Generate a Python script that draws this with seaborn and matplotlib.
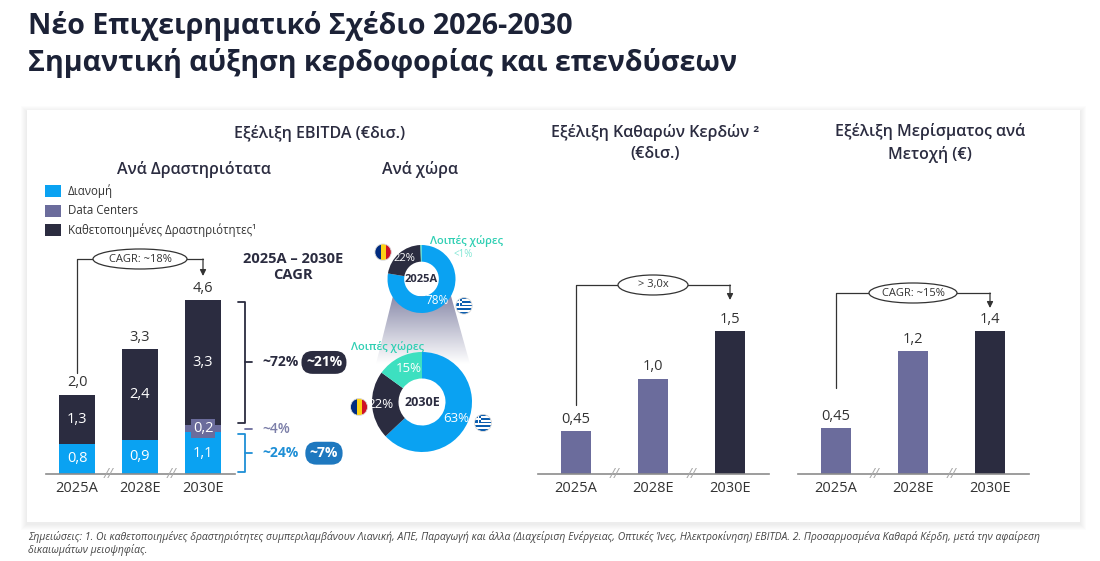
import numpy as np
import pandas as pd
import matplotlib
matplotlib.use("Agg")
import matplotlib.pyplot as plt
from matplotlib.patches import Ellipse, Rectangle, Circle, Polygon
from matplotlib.colors import LinearSegmentedColormap
import seaborn as sns

sns.set_theme(style="white")
plt.rcParams['font.family'] = ['Open Sans', 'DejaVu Sans']

# ---- data
years = ["2025A", "2028E", "2030E"]
ebitda_distribution = [0.8, 0.9, 1.1]
ebitda_data_centers = [0.0, 0.0, 0.2]
ebitda_integrated = [1.3, 2.4, 3.3]
ebitda_total_labels = ["2,0", "3,3", "4,6"]
ebitda_cagr = "CAGR: ~18%"

segment_names = ["Διανομή", "Data Centers", "Καθετοποιημένες Δραστηριότητες¹"]
segment_share_2030 = ["~24%", "~4%", "~72%"]
segment_cagr = ["~7%", "", "~21%"]

country_names = ["Ελλάδα", "Ρουμανία", "Λοιπές χώρες"]
country_share_2025 = [78, 22, 0.5]
country_share_2030 = [63, 22, 15]
country_labels_2025 = ["78%", "22%", "<1%"]
country_labels_2030 = ["63%", "22%", "15%"]

net_profit = [0.45, 1.0, 1.5]
net_profit_growth = "> 3,0x"
dividend = [0.45, 1.2, 1.4]
dividend_cagr = "CAGR: ~15%"

# colours
NAVY = "#1c2237"
DARK = "#2b2c40"
BLUE = "#0aa2f2"
PURPLE = "#6b6c9c"
TEAL = "#3de0c0"
TEAL_TXT = "#2fcfb3"
BLUE_TXT = "#1f8fd6"
PILL_BLUE = "#1e78bf"
LINE = "#333333"
TXT = "#333333"

W, H = 1100, 561
BASE = 474  # pixel row of the bar baselines

fig = plt.figure(figsize=(W / 100, H / 100), dpi=100)
bg = fig.add_axes([0, 0, 1, 1])
bg.axis('off')

# card with a soft shadow
for s in range(1, 7):
    bg.add_patch(Rectangle((27 - s, 110 - s + 2), 1053 + 2 * s, 412 + 2 * s,
                           fc='black', ec='none', alpha=0.01))
bg.add_patch(Rectangle((27, 110), 1053, 412, fc='white', ec='none'))

# funnel between the two donuts
grad = np.linspace(0, 1, 100)[:, None]
fcmap = LinearSegmentedColormap.from_list('funnel', ['#8b8cab', '#ffffff'])
im = bg.imshow(grad, extent=[376, 470, 364, 296], cmap=fcmap, aspect='auto', zorder=1)
im.set_clip_path(Polygon([(393, 296), (451, 296), (470, 364), (376, 364)], transform=bg.transData))
bg.set_xlim(0, W)
bg.set_ylim(H, 0)

# titles
bg.text(28, 26, "Νέο Επιχειρηματικό Σχέδιο 2026-2030", fontsize=20.6, weight='bold',
        color=NAVY, va='center')
bg.text(28, 63, "Σημαντική αύξηση κερδοφορίας και επενδύσεων", fontsize=20.6, weight='bold',
        color=NAVY, va='center')

head = dict(fontsize=11.5, weight='semibold', color=DARK, ha='center', va='center')
bg.text(320, 133, "Εξέλιξη EBITDA (€δισ.)", **head)
bg.text(194, 169, "Ανά Δραστηριότατα", **head)
bg.text(420, 169, "Ανά χώρα", **head)
bg.text(655, 143, "Εξέλιξη Καθαρών Κερδών ²\n(€δισ.)", linespacing=1.45, **head)
bg.text(930, 143, "Εξέλιξη Μερίσματος ανά\nΜετοχή (€)", linespacing=1.45, **head)

# legend
for i, (name, col) in enumerate(zip(segment_names, [BLUE, PURPLE, DARK])):
    y = 191 + i * 19.5
    bg.add_patch(Rectangle((45, y - 6), 16, 12, fc=col, ec='none'))
    bg.text(68, y, name, fontsize=8.3, color=TXT, va='center')

bg.text(293, 267, "2025A – 2030E\nCAGR", fontsize=10.5, weight='bold', color=DARK,
        ha='center', va='center', linespacing=1.2)

note = dict(fontsize=7.5, style='italic', color='#444444', va='center')
bg.text(28, 537, "Σημειώσεις: 1. Οι καθετοποιημένες δραστηριότητες συμπεριλαμβάνουν Λιανική, ΑΠΕ, "
        "Παραγωγή και άλλα (Διαχείριση Ενέργειας, Οπτικές Ίνες, Ηλεκτροκίνηση) EBITDA. "
        "2. Προσαρμοσμένα Καθαρά Κέρδη, μετά την αφαίρεση", **note)
bg.text(28, 550, "δικαιωμάτων μειοψηφίας.", **note)


def fmt(v):
    s = f"{v:.2f}".rstrip('0')
    if s.endswith('.'):
        s += '0'
    return s.replace('.', ',')


def bar_axes(x0, x1, ytop):
    ax = fig.add_axes([x0 / W, 1 - BASE / H, (x1 - x0) / W, (BASE - ytop) / H])
    ax.patch.set_visible(False)
    return ax


def style(ax, ymax):
    ax.set_xlim(-0.5, 2.5)
    ax.set_ylim(0, ymax)
    sns.despine(ax=ax, left=True)
    ax.spines['bottom'].set_color('#8c8c8c')
    ax.spines['bottom'].set_linewidth(1.2)
    ax.set_yticks([])
    ax.set_xlabel('')
    ax.set_ylabel('')
    ax.tick_params(axis='x', length=0, pad=5, labelsize=10.5, labelcolor=TXT)
    for xb in (0.5, 1.5):
        ax.text(xb, 0, "//", ha='center', va='center', fontsize=10, color='#a8a8a8',
                style='italic', clip_on=False)


def growth_arrow(ax, vals, text, ell_px, xk, k, start_px, top_px, end_px):
    y0 = vals[0] + start_px / k
    yt = max(vals) + top_px / k
    ye = vals[-1] + end_px / k
    ax.plot([0, 0, 2], [y0, yt, yt], color=LINE, lw=0.9, clip_on=False)
    ax.annotate('', xy=(2, ye), xytext=(2, yt), annotation_clip=False,
                arrowprops=dict(arrowstyle='-|>', color=LINE, lw=0.9, mutation_scale=9,
                                shrinkA=0, shrinkB=0))
    ax.add_patch(Ellipse((1, yt), ell_px / xk, 20 / k, fc='white', ec=LINE, lw=0.9,
                         clip_on=False, zorder=3))
    ax.text(1, yt, text, ha='center', va='center', fontsize=8, color=TXT, zorder=4)


# ---- EBITDA stacked bars
k_e = (BASE - 300) / 4.6
ax_e = bar_axes(45.5, 234.5, 300)
df = pd.DataFrame({"year": years, "dist": ebitda_distribution,
                   "dc": ebitda_data_centers, "vert": ebitda_integrated})
df["lvl1"] = df["dist"]
df["lvl2"] = df["lvl1"] + df["dc"]
df["lvl3"] = df["lvl2"] + df["vert"]
for col, color in [("lvl3", DARK), ("lvl2", PURPLE), ("lvl1", BLUE)]:
    sns.barplot(data=df, x="year", y=col, color=color, width=0.556, saturation=1,
                linewidth=0, ax=ax_e)
style(ax_e, 4.6)

for i, row in df.iterrows():
    ax_e.text(i, row["lvl1"] / 2, fmt(row["dist"]), ha='center', va='center',
              fontsize=10.5, color='white')
    ax_e.text(i, (row["lvl2"] + row["lvl3"]) / 2, fmt(row["vert"]), ha='center',
              va='center', fontsize=10.5, color='white')
    if row["dc"] > 0:
        ax_e.text(i, (row["lvl1"] + row["lvl2"]) / 2, fmt(row["dc"]), ha='center',
                  va='center', fontsize=10.5, color='white', zorder=5,
                  bbox=dict(boxstyle='square,pad=0.12', fc=PURPLE, ec='none'))
    ax_e.annotate(ebitda_total_labels[i], (i, row["lvl3"]), xytext=(0, 3),
                  textcoords='offset points', ha='center', va='bottom', fontsize=10.5, color=TXT)

growth_arrow(ax_e, df["lvl3"].tolist(), ebitda_cagr, 94, 63, k_e, 22, 41, 24)

# brackets for 2030E mix
last = df.iloc[-1]
xb0, xb1, xb2 = 2.556, 2.667, 2.778
gap = 2 / k_e
spans = [(0, last["lvl1"], BLUE_TXT), (last["lvl1"], last["lvl2"], PURPLE),
         (last["lvl2"], last["lvl3"], DARK)]
for (y0, y1, col), share, cagr in zip(spans, segment_share_2030, segment_cagr):
    a, b = y0 + gap, y1 - gap
    ym = (y0 + y1) / 2
    if y1 - y0 > 0.5:
        ax_e.plot([xb0, xb1, xb1, xb0], [a, a, b, b], color=col, lw=1.3, clip_on=False)
    ax_e.plot([xb1, xb2], [ym, ym], color=col, lw=1.3, clip_on=False)
    tcol = {BLUE_TXT: BLUE_TXT, PURPLE: "#7b7ea8", DARK: DARK}[col]
    ax_e.text(2.94, ym, share, ha='left', va='center', fontsize=10,
              weight='bold' if cagr else 'semibold', color=tcol, clip_on=False)
    if cagr:
        pfc = DARK if col == DARK else PILL_BLUE
        ax_e.text(3.92, ym, cagr, ha='center', va='center', fontsize=10, weight='bold',
                  color='white', clip_on=False,
                  bbox=dict(boxstyle='round,pad=0.32,rounding_size=0.8', fc=pfc, ec='none'))

# ---- net profit
k_n = (BASE - 331) / 1.5
ax_n = bar_axes(537.5, 768.5, 331)
sns.barplot(x=years, y=net_profit, hue=years, palette=[PURPLE, PURPLE, DARK], legend=False,
            width=0.4, saturation=1, linewidth=0, ax=ax_n)
style(ax_n, 1.5)
for i, v in enumerate(net_profit):
    ax_n.annotate(fmt(v), (i, v), xytext=(0, 3), textcoords='offset points', ha='center',
                  va='bottom', fontsize=10.5, color=TXT)
growth_arrow(ax_n, net_profit, net_profit_growth, 70, 77, k_n, 26, 46, 31)

# ---- dividend per share
k_d = (BASE - 331) / 1.4
ax_d = bar_axes(797.5, 1028.5, 331)
sns.barplot(x=years, y=dividend, hue=years, palette=[PURPLE, PURPLE, DARK], legend=False,
            width=0.4, saturation=1, linewidth=0, ax=ax_d)
style(ax_d, 1.4)
for i, v in enumerate(dividend):
    ax_d.annotate(fmt(v), (i, v), xytext=(0, 3), textcoords='offset points', ha='center',
                  va='bottom', fontsize=10.5, color=TXT)
growth_arrow(ax_d, dividend, dividend_cagr, 88, 77, k_d, 40, 38, 23)


# ---- donuts by country
def flag(ax, x, y, r, kind):
    if kind == 'ro':
        img = np.array([[[0, 43, 127], [252, 209, 22], [206, 17, 38]]]) / 255
    else:
        blue = np.array([13, 94, 175]) / 255
        img = np.ones((18, 27, 3))
        for s in range(0, 18, 4):
            img[s:s + 2] = blue
        img[0:10, 0:10] = blue
        img[4:6, 0:10] = 1
        img[0:10, 4:6] = 1
    im = ax.imshow(img, extent=[x - r, x + r, y - r, y + r], zorder=6,
                   interpolation='nearest', aspect='auto')
    im.set_clip_path(Circle((x, y), r, transform=ax.transData))
    ax.add_patch(Circle((x, y), r, fc='none', ec='#d8d8d8', lw=0.6, zorder=7))


def donut(cx, cy, R, shares, width, span=1.7):
    ax = fig.add_axes([(cx - span * R) / W, 1 - (cy + span * R) / H,
                       2 * span * R / W, 2 * span * R / H])
    ax.patch.set_visible(False)
    ax.pie(shares, colors=[BLUE, DARK, TEAL], startangle=90, counterclock=False,
           wedgeprops=dict(width=width, edgecolor='none', linewidth=0))
    return ax, span


def finish(ax, span):
    ax.set_xlim(-span, span)
    ax.set_ylim(-span, span)
    ax.set_aspect('equal')
    ax.axis('off')


d1, sp1 = donut(421.5, 279, 34, country_share_2025, 0.49)
d1.text(0, 0, "2025A", ha='center', va='center', fontsize=8, weight='bold', color=DARK)
d1.text(0.46, -0.62, country_labels_2025[0], ha='center', va='center', fontsize=8.5, color='white')
d1.text(-0.49, 0.59, country_labels_2025[1], ha='center', va='center', fontsize=8, color='white')
d1.text(1.34, 1.12, country_names[2], ha='center', va='center', fontsize=8, weight='semibold',
        color=TEAL_TXT)
d1.text(1.22, 0.71, country_labels_2025[2], ha='center', va='center', fontsize=7, color='#7fe6d3')
flag(d1, -1.13, 0.79, 0.24, 'ro')
flag(d1, 1.25, -0.79, 0.24, 'gr')
finish(d1, sp1)

d2, sp2 = donut(422, 402, 50, country_share_2030, 0.53, span=1.5)
d2.text(0, 0, "2030E", ha='center', va='center', fontsize=9, weight='bold', color=DARK)
d2.text(0.68, -0.34, country_labels_2030[0], ha='center', va='center', fontsize=9.5, color='white')
d2.text(-0.84, -0.04, country_labels_2030[1], ha='center', va='center', fontsize=9.5, color='white')
d2.text(-0.26, 0.68, country_labels_2030[2], ha='center', va='center', fontsize=9.5, color='white')
d2.text(-0.68, 1.1, country_names[2], ha='center', va='center', fontsize=8, weight='semibold',
        color=TEAL_TXT)
flag(d2, -1.26, -0.1, 0.17, 'ro')
flag(d2, 1.22, -0.42, 0.17, 'gr')
finish(d2, sp2)

fig.savefig("out.png", dpi=100)
